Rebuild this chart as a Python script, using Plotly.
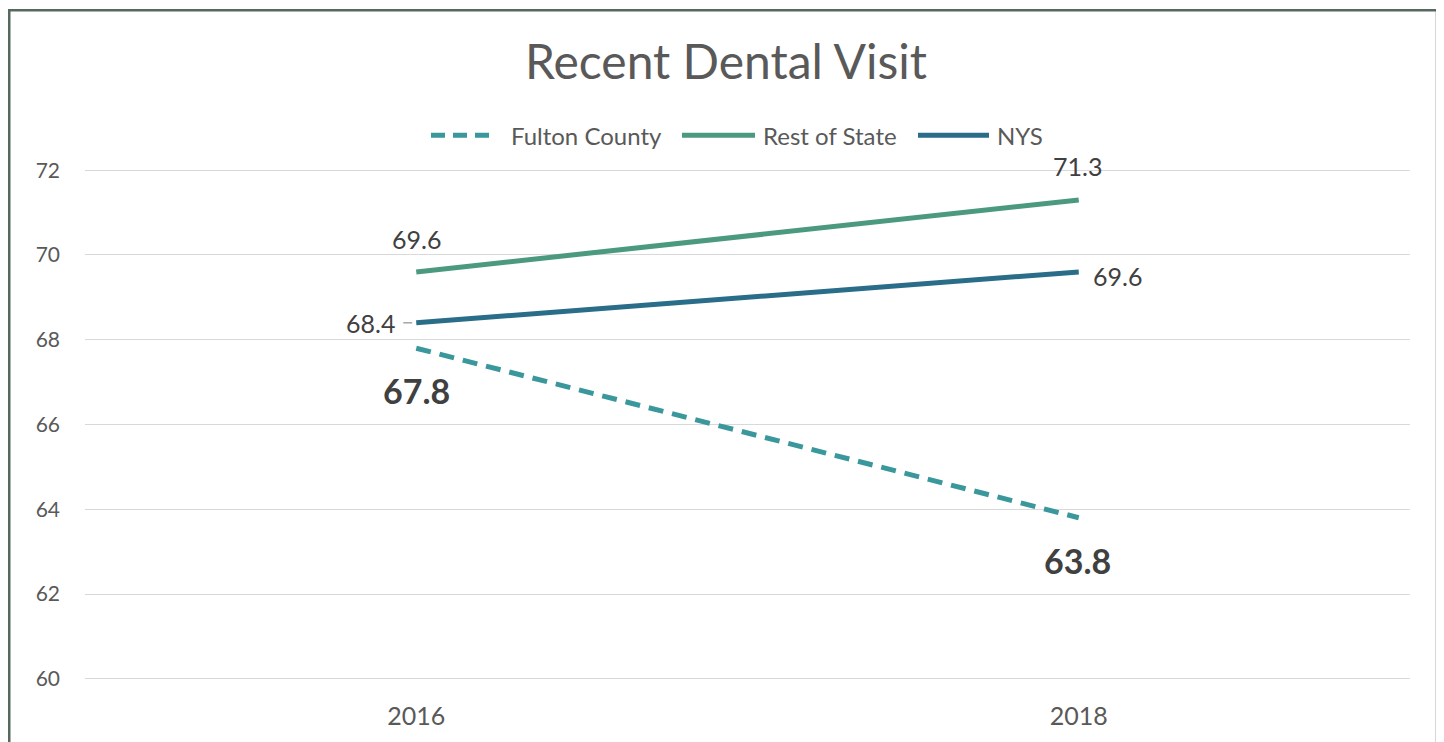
import plotly.graph_objects as go

years = ["2016", "2018"]
fulton = [67.8, 63.8]
rest_of_state = [69.6, 71.3]
nys = [68.4, 69.6]
y_ticks = [60, 62, 64, 66, 68, 70, 72]
series_names = ["Fulton County", "Rest of State", "NYS"]

FONT = "Lato, Carlito, 'Open Sans', sans-serif"
GREY = "#595959"
LABEL = "#404040"
C_FULTON = "#3a979b"
C_ROS = "#4b9a80"
C_NYS = "#2a6d89"

W, H = 1436, 734
L, R, T, B = 77, 34, 158, 56
PW, PH = W - L - R, H - T - B
Y_RANGE = [59.9, 72.1]


def px(xp):
    return (xp - L) / PW


def py(yp):
    return (H - B - yp) / PH


fig = go.Figure()
fig.add_trace(go.Scatter(x=years, y=fulton, mode="lines", name=series_names[0], showlegend=False,
                         line=dict(color=C_FULTON, width=5, dash="15px,9px")))
fig.add_trace(go.Scatter(x=years, y=rest_of_state, mode="lines", name=series_names[1], showlegend=False,
                         line=dict(color=C_ROS, width=5)))
fig.add_trace(go.Scatter(x=years, y=nys, mode="lines", name=series_names[2], showlegend=False,
                         line=dict(color=C_NYS, width=5)))

lab_font = dict(family=FONT, size=25, color=LABEL)
bold_font = dict(family=FONT, size=34, color=LABEL)
ann = []
# (series, point index, bold, xshift, yshift)
label_specs = [
    (rest_of_state, 0, False, 0, 33),
    (rest_of_state, 1, False, -1, 34),
    (nys, 0, False, -46, 0),
    (nys, 1, False, 39, -4),
    (fulton, 0, True, 0, -42),
    (fulton, 1, True, -1, -43),
]
for series, i, bold, xs, ys in label_specs:
    txt = f"{series[i]:.1f}"
    ann.append(dict(xref="x", yref="y", x=i, y=series[i],
                    text=f"<b>{txt}</b>" if bold else txt, showarrow=False,
                    xanchor="center", yanchor="middle", xshift=xs, yshift=ys,
                    font=bold_font if bold else lab_font))

# custom legend (long line samples as in the original)
legend_y = py(127)
legend_items = [
    (series_names[0], C_FULTON, "14px,8px", 423, 487, 501),
    (series_names[1], C_ROS, "solid", 674, 747, 753),
    (series_names[2], C_NYS, "solid", 910, 981, 987),
]
shapes = []
for name, col, dash, x0, x1, xt in legend_items:
    shapes.append(dict(type="line", xref="paper", yref="paper", x0=px(x0), x1=px(x1),
                       y0=legend_y, y1=legend_y, line=dict(color=col, width=5, dash=dash)))
    ann.append(dict(xref="paper", yref="paper", x=px(xt), y=legend_y, xanchor="left", yanchor="middle",
                    text=name, showarrow=False, font=dict(family=FONT, size=24, color=GREY)))

# chart border
shapes.append(dict(type="rect", xref="paper", yref="paper",
                   x0=px(1.25), x1=px(1429), y0=py(760), y1=py(1.25),
                   line=dict(color="#56695d", width=2.5), layer="above"))
# leader line for the 68.4 label
shapes.append(dict(type="line", xref="x", yref="y", xsizemode="pixel", xanchor=0,
                   x0=-13, x1=-4, y0=nys[0], y1=nys[0],
                   line=dict(color="#a6a6a6", width=1.5)))

fig.update_layout(
    annotations=ann,
    shapes=shapes,
    width=W, height=H,
    margin=dict(l=L, r=R, t=T, b=B),
    paper_bgcolor="white", plot_bgcolor="white",
    showlegend=False,
    title=dict(text="Recent Dental Visit", x=0.5, xanchor="center", y=1 - 54 / H, yanchor="middle",
               font=dict(family=FONT, size=48, color=GREY)),
    xaxis=dict(type="category", range=[-0.5, 1.5], showgrid=False, showline=False, ticks="",
               tickfont=dict(family=FONT, size=25, color=GREY), ticklabelstandoff=16),
    yaxis=dict(range=Y_RANGE, tickvals=y_ticks, showgrid=True, gridcolor="#d9d9d9", gridwidth=1.3,
               zeroline=False, showline=False, ticks="",
               tickfont=dict(family=FONT, size=21, color=GREY), ticklabelstandoff=24),
)

fig.write_html("out.html")
